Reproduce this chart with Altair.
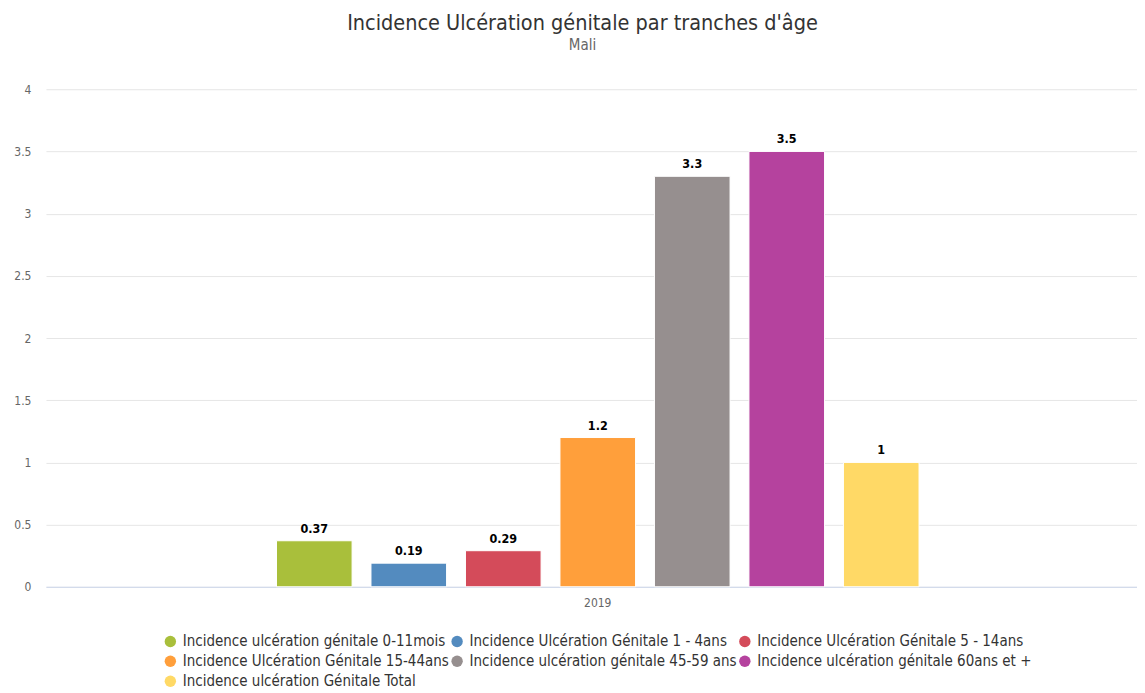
import altair as alt
import pandas as pd

years = ["2019"]
series = [
    "Incidence ulcération génitale 0-11mois",
    "Incidence Ulcération Génitale 1 - 4ans",
    "Incidence Ulcération Génitale 5 - 14ans",
    "Incidence Ulcération Génitale 15-44ans",
    "Incidence ulcération génitale 45-59 ans",
    "Incidence ulcération génitale 60ans et +",
    "Incidence ulcération Génitale Total",
]
values = [0.37, 0.19, 0.29, 1.2, 3.3, 3.5, 1]
colors = ["#A9BF3B", "#538BBF", "#D44B5A", "#FF9F3B", "#968F8F", "#B5429E", "#FFD966"]

df = pd.DataFrame({
    "year": years * len(series),
    "series": series,
    "value": values,
})

FONT = "DejaVu Sans Condensed, DejaVu Sans"

x_enc = alt.X(
    "year:N",
    title=None,
    scale=alt.Scale(paddingInner=0, paddingOuter=0.349, align=0.514),
    axis=alt.Axis(
        labelAngle=0, labelColor="#666666", labelFontSize=12, labelFont=FONT,
        domainColor="#ccd6eb", ticks=False, labelPadding=11, grid=False,
    ),
)
xoff_enc = alt.XOffset(
    "series:N", sort=series,
    scale=alt.Scale(paddingInner=0.2, paddingOuter=0),
)
y_enc = alt.Y(
    "value:Q",
    title=None,
    scale=alt.Scale(domain=[0, 4]),
    axis=alt.Axis(
        values=[0, 0.5, 1, 1.5, 2, 2.5, 3, 3.5, 4], format=".1~f",
        labelColor="#666666", labelFontSize=12, labelFont=FONT,
        domain=False, ticks=False, labelPadding=15,
        gridColor="#e6e6e6",
    ),
)

bars = alt.Chart(df).mark_bar(stroke="white", strokeWidth=1).encode(
    x=x_enc,
    xOffset=xoff_enc,
    y=y_enc,
    color=alt.Color(
        "series:N", sort=series,
        scale=alt.Scale(domain=series, range=colors),
        legend=alt.Legend(
            title=None, orient="none", legendX=117, legendY=545,
            direction="horizontal", columns=3,
            symbolType="circle", symbolSize=130, symbolStrokeWidth=0,
            labelFont=FONT, labelFontSize=15, labelColor="#333333",
            labelLimit=330, labelOffset=5, columnPadding=0, rowPadding=4,
        ),
    ),
)

labels = alt.Chart(df).mark_text(
    dy=-8, baseline="alphabetic", fontWeight="bold", fontSize=12.5, font=FONT, color="#000000",
).encode(
    x=alt.X("year:N"),
    xOffset=alt.XOffset("series:N", sort=series),
    y=alt.Y("value:Q"),
    text=alt.Text("value:Q", format="~g"),
)

chart = alt.layer(bars, labels).properties(
    width=1092,
    height=498,
    padding={"left": 5, "top": 4, "right": 0, "bottom": 0},
    title=alt.TitleParams(
        text="Incidence Ulcération génitale par tranches d'âge",
        subtitle="Mali",
        font=FONT, fontSize=21.5, fontWeight="normal", color="#333333",
        subtitleFont=FONT, subtitleFontSize=15, subtitleColor="#666666",
        subtitlePadding=4, anchor="middle", offset=30, dx=-9,
    ),
).configure_view(stroke=None)

chart.save("out.html", embed_options={"renderer": "svg", "actions": False})
